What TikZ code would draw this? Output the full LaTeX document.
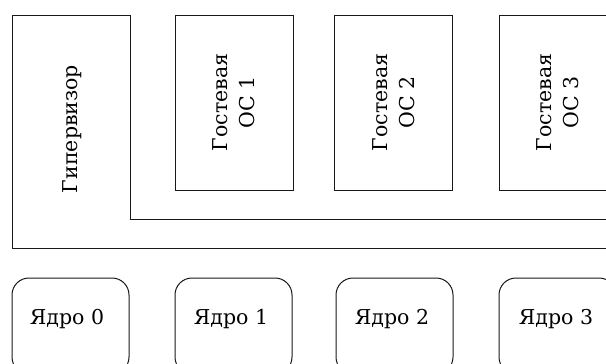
\documentclass[tikz,border=0pt]{standalone}
\usepackage{fontspec}
\setmainfont{DejaVu Serif}
\tikzset{
  outline/.style={draw=black!90, line width=1pt},
  guestbox/.style={outline, minimum width=118pt, minimum height=175pt, inner sep=0pt},
  corebox/.style={outline, rounded corners=17pt, minimum width=117pt, minimum height=96pt, inner sep=0pt},
  lbl/.style={font=\fontsize{20.5}{27}\selectfont, align=center, text=black, inner sep=0pt},
}
\begin{document}
\begin{tikzpicture}[x=1pt,y=-1pt]
\useasboundingbox (0,0) rectangle (606,364);
\clip (0,0) rectangle (606,364);
% hypervisor outline
\draw[outline] (640,219) -- (130,219) -- (130,15) -- (12,15) -- (12,248) -- (640,248);
\node[lbl, rotate=90] (hyp) at (72,129) {Гипервизор};
% guest OS boxes
\node[guestbox] (g1) at (234,102.5) {};
\node[guestbox] (g2) at (393.5,102.5) {};
\node[guestbox] (g3) at (558,102.5) {};
\node[lbl, rotate=90] (t1) at (g1) {Гостевая\\ОС 1};
\node[lbl, rotate=90] (t2) at (g2) {Гостевая\\ОС 2};
\node[lbl, rotate=90] (t3) at (g3) {Гостевая\\ОС 3};
% cores
\node[corebox] (c0) at (70.5,326) {};
\node[corebox] (c1) at (233.5,326) {};
\node[corebox] (c2) at (394.5,326) {};
\node[corebox] (c3) at (557.5,326) {};
\node[lbl] (k0) at (67,319) {Ядро 0};
\node[lbl] (k1) at (231,319) {Ядро 1};
\node[lbl] (k2) at (392,319) {Ядро 2};
\node[lbl] (k3) at (556,319) {Ядро 3};
\end{tikzpicture}
\end{document}
